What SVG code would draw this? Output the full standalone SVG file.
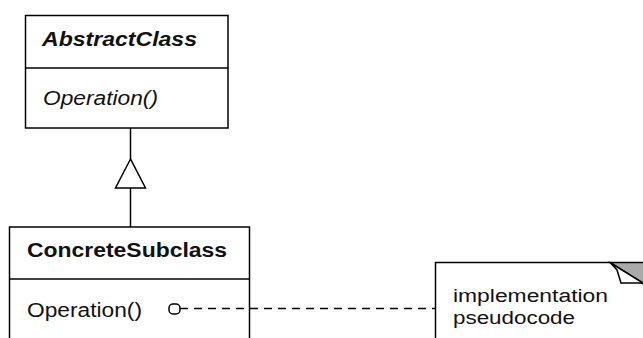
<svg xmlns="http://www.w3.org/2000/svg" width="643" height="338" viewBox="0 0 643 338">
<style>
.box{fill:#fff;stroke:#000;stroke-width:1.5}
.ln{fill:none;stroke:#000;stroke-width:1.5}
.t{font-family:"Liberation Sans",Arial,sans-serif;font-size:20px;fill:#111}
.n{font-size:18px}
.b{font-weight:bold}
.i{font-style:italic}
</style>
<rect width="643" height="338" fill="#fff"/>
<g id="AbstractClass">
<rect class="box" x="25.5" y="15.5" width="202.5" height="112.5"/>
<line class="ln" x1="25.5" y1="68" x2="228" y2="68"/>
<text class="t b i" x="42" y="46" textLength="155" lengthAdjust="spacingAndGlyphs">AbstractClass</text>
<text class="t i" x="43" y="105" textLength="115" lengthAdjust="spacingAndGlyphs">Operation()</text>
</g>
<g id="ConcreteSubclass">
<rect class="box" x="9.5" y="227" width="240" height="130"/>
<line class="ln" x1="9.5" y1="279" x2="249.5" y2="279"/>
<text class="t b" x="27" y="257" textLength="200" lengthAdjust="spacingAndGlyphs">ConcreteSubclass</text>
<text class="t" x="27" y="317" textLength="115" lengthAdjust="spacingAndGlyphs">Operation()</text>
</g>
<g id="note">
<path class="box" d="M435.5,360 V262.5 H610 L650,288 V360 Z"/>
<polygon points="610,262.5 650,262.5 650,288" fill="#aaa" stroke="#000" stroke-width="1.5"/>
<polygon points="610,262.5 617,270 621,283 643,283" fill="#fff" stroke="#000" stroke-width="1.5"/>
<text class="t n" x="453" y="302" textLength="155" lengthAdjust="spacingAndGlyphs">implementation</text>
<text class="t n" x="453" y="324" textLength="122" lengthAdjust="spacingAndGlyphs">pseudocode</text>
</g>
<g id="connectors">
<line class="ln" x1="130.5" y1="128" x2="130.5" y2="159"/>
<polygon class="box" points="130.5,159 115.5,188 145.5,188"/>
<line class="ln" x1="130.5" y1="188" x2="130.5" y2="227"/>
<line class="ln" x1="180" y1="308.5" x2="435" y2="308.5" stroke-dasharray="8,6"/>
<rect x="169" y="304" width="11" height="10" rx="4" class="box"/>
</g>
</svg>
